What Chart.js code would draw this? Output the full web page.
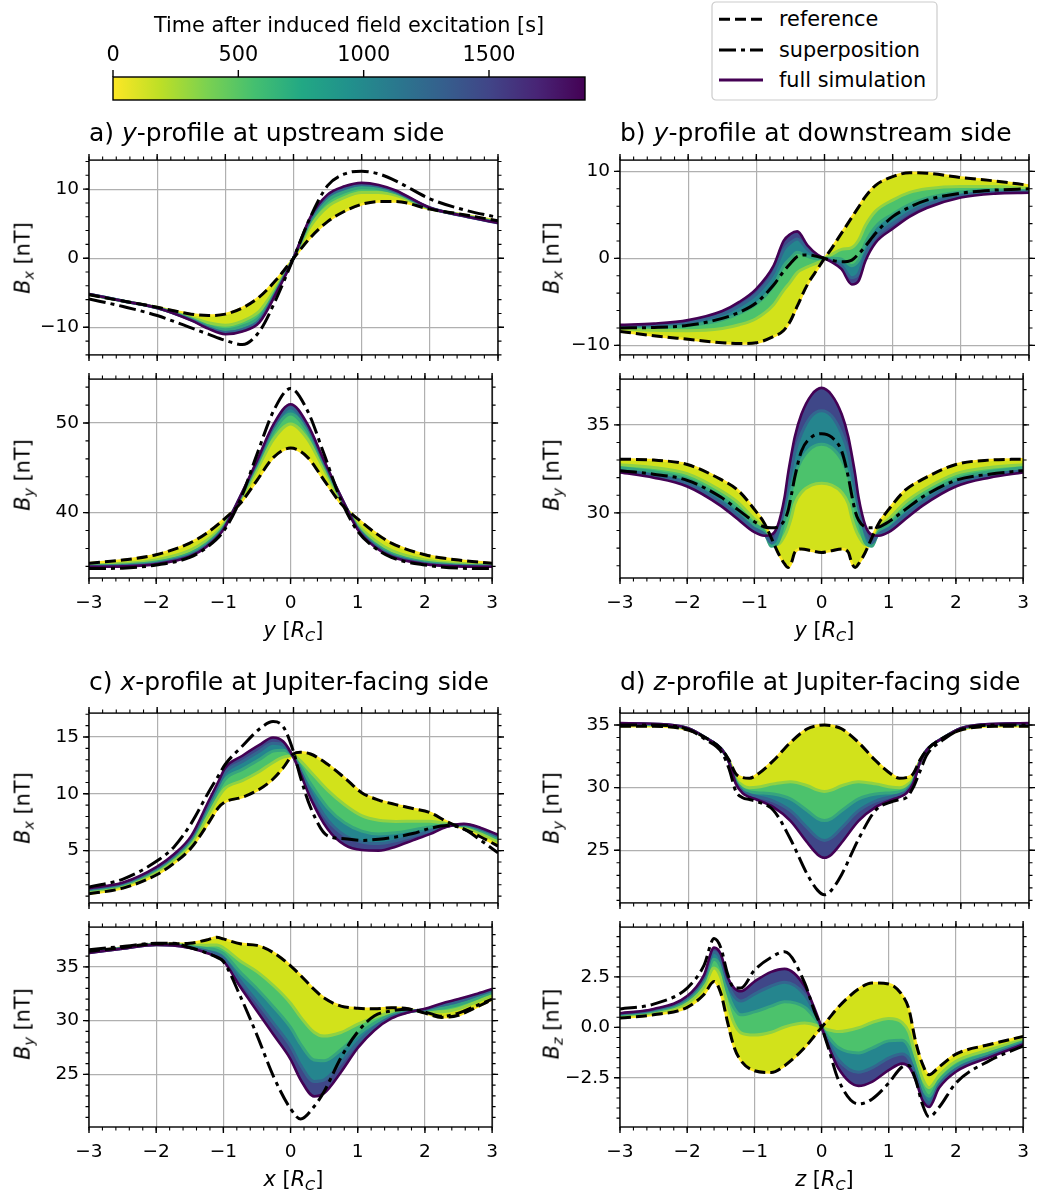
<!DOCTYPE html>
<html>
<head>
<meta charset="utf-8">
<title>Induced field profiles</title>
<script src="https://cdn.jsdelivr.net/npm/chart.js@4.4.1/dist/chart.umd.min.js"></script>
<style>
  body { margin: 0; background: #fff; font-family: "DejaVu Sans", sans-serif; color: #000; }
  #page { position: relative; width: 1037px; height: 1197px; overflow: hidden; background: #fff; }
  canvas { position: absolute; }
  .txt { position: absolute; white-space: nowrap; line-height: 1; }
  .title { font-size: 25px; }
  .lab { font-size: 20.8px; }
  sub { font-size: 0.7em; vertical-align: -0.25em; line-height: 0; }
</style>
</head>
<body>
<div id="page"></div>
<script>
// ---- a) y-profile, upstream side ----
const yUp = [-3,-2.5,-2,-1.5,-1.25,-1,-0.75,-0.5,-0.25,0,0.25,0.5,0.75,1,1.25,1.5,2,2.5,3];
const aBxRef  = [-5.3,-6.2,-7.1,-8.1,-8.3,-8.1,-7.2,-5.6,-3.1,0,3.0,5.3,6.8,7.8,8.2,8.2,7.1,6.3,5.4];
const aBxSup  = [-5.9,-7.0,-8.3,-10.1,-11.0,-11.9,-12.5,-10.6,-5.8,0,6.0,10.5,12.2,12.6,12.2,11.2,8.6,7.0,5.9];
const aBxFull = [-5.2,-6.2,-7.2,-9.0,-10.2,-11.0,-10.6,-9.3,-5.0,0,6.0,9.2,10.4,10.9,10.6,9.8,7.3,6.1,5.1];
const aBx450  = [-5.25,-6.2,-7.15,-8.6,-9.35,-9.7,-9.1,-7.65,-4.15,0,4.65,7.45,8.8,9.5,9.5,9.1,7.2,6.2,5.25];
const aBx850  = [-5.2,-6.2,-7.2,-8.8,-9.8,-10.35,-9.85,-8.5,-4.6,0,5.35,8.35,9.6,10.2,10.05,9.45,7.25,6.15,5.15];
const aBx1250 = [-5.2,-6.2,-7.2,-8.95,-10.05,-10.75,-10.35,-9.0,-4.85,0,5.75,8.9,10.1,10.65,10.4,9.65,7.3,6.1,5.1];
const aByRef  = [34.35,34.7,35.3,36.6,37.7,39.2,41.0,43.6,46.2,47.2,46.2,43.6,41.0,39.3,37.8,36.6,35.3,34.7,34.35];
const aBySup  = [33.75,33.8,34.15,35.0,36.1,37.9,41.4,46.5,51.4,53.85,51.4,46.5,41.4,37.9,36.1,35.0,34.15,33.8,33.75];
const aByFull = [33.95,34.0,34.25,35.1,36.2,38.1,41.8,45.8,49.9,52.1,49.9,45.8,41.8,38.1,36.2,35.1,34.25,34.0,33.95];
const aBy450  = [34.13,34.32,34.72,35.78,36.88,38.6,41.44,44.81,48.24,49.9,48.24,44.81,41.44,38.64,36.92,35.78,34.72,34.32,34.13];
const aBy850  = [34.04,34.15,34.48,35.43,36.53,38.34,41.62,45.32,49.09,51.0,49.09,45.32,41.62,38.36,36.55,35.43,34.48,34.15,34.04];
const aBy1250 = [33.98,34.06,34.33,35.22,36.32,38.19,41.74,45.62,49.6,51.7,49.6,45.62,41.74,38.2,36.33,35.22,34.33,34.06,33.98];

// ---- b) y-profile, downstream side ----
const yDnX = [-3,-2.5,-2,-1.5,-1.25,-1,-0.75,-0.6,-0.5,-0.4,-0.25,-0.1,0,0.1,0.25,0.4,0.5,0.6,0.75,1,1.25,1.5,2,2.5,3];
const bBxRef  = [-8.4,-8.9,-9.3,-9.7,-9.8,-9.7,-9.0,-8.3,-7.2,-5.5,-3.0,-1.2,0,1.1,2.9,4.7,5.9,7.1,8.4,9.4,9.85,9.8,9.3,8.9,8.4];
const bBxSup  = [-8.0,-7.95,-7.7,-6.9,-6.2,-5.1,-3.1,-1.5,-0.6,0.2,0.4,0.2,0,-0.2,-0.4,-0.2,0.5,1.4,2.9,4.8,5.9,6.7,7.5,7.85,8.0];
const bBxFull = [-7.65,-7.5,-7.1,-6.05,-5.0,-3.5,-0.9,2.0,2.8,3.1,1.5,0.4,0,-0.4,-1.25,-3.0,-2.6,-0.3,1.8,3.4,4.8,5.8,7.0,7.45,7.55];
const bBx450  = [-8.06,-8.27,-8.31,-8.06,-7.64,-6.91,-5.36,-3.67,-2.7,-1.63,-0.98,-0.48,0,0.43,1.03,1.24,2.08,3.77,5.43,6.7,7.58,8.0,8.27,8.25,8.02];
const bBx850  = [-7.86,-7.89,-7.72,-7.07,-6.34,-5.24,-3.17,-0.88,0.0,0.69,0.24,-0.05,0,0.02,-0.09,-0.84,-0.22,1.77,3.65,5.08,6.21,6.92,7.64,7.86,7.79];
const bBx1250 = [-7.73,-7.64,-7.32,-6.42,-5.48,-4.12,-1.71,0.97,1.8,2.24,1.05,0.24,0,-0.25,-0.84,-2.23,-1.75,0.44,2.46,4.0,5.31,6.2,7.23,7.6,7.64];
const yDnY = [-3,-2.5,-2,-1.5,-1.25,-1,-0.85,-0.75,-0.65,-0.55,-0.5,-0.45,-0.4,-0.3,-0.15,0,0.15,0.3,0.4,0.45,0.5,0.55,0.65,0.75,0.85,1,1.25,1.5,2,2.5,3];
const bByRef  = [33.05,33.0,32.75,31.9,31.3,30.2,29.4,28.6,27.75,27.1,26.9,27.15,27.75,27.95,27.85,27.75,27.85,27.95,27.75,27.15,26.9,27.1,27.75,28.6,29.4,30.2,31.3,31.9,32.75,33.0,33.05];
const bBySup  = [32.4,32.2,31.85,30.9,30.2,29.5,29.2,29.15,29.2,29.6,30.1,31.0,32.0,33.5,34.3,34.5,34.3,33.5,32.0,31.0,30.1,29.6,29.2,29.15,29.2,29.5,30.2,30.9,31.85,32.2,32.4];
const bByFull = [32.3,32.0,31.5,30.4,29.65,28.9,28.7,28.75,29.3,30.9,32.2,33.3,34.3,35.6,36.7,37.1,36.7,35.6,34.3,33.3,32.2,30.9,29.3,28.75,28.7,28.9,29.65,30.4,31.5,32.0,32.3];
const bBy450  = [32.74,32.58,32.23,31.27,30.61,29.65,29.1,28.3,28.2,28.7,29.13,29.73,30.5,31.16,31.57,31.68,31.57,31.16,30.5,29.73,29.13,28.7,28.2,28.3,29.1,29.65,30.61,31.27,32.23,32.58,32.74];
const bBy850  = [32.56,32.34,31.93,30.91,30.21,29.34,28.94,28.1,28.3,29.6,30.4,31.2,32.1,33.0,33.7,33.9,33.7,33.0,32.1,31.2,30.4,29.6,28.3,28.1,28.94,29.34,30.21,30.91,31.93,32.34,32.56];
const bBy1250 = [32.4,32.14,31.68,30.61,29.88,29.08,28.8,28.3,28.9,30.4,31.5,32.4,33.4,34.5,35.5,35.8,35.5,34.5,33.4,32.4,31.5,30.4,28.9,28.3,28.8,29.08,29.88,30.61,31.68,32.14,32.4];

// ---- c) x-profile, Jupiter-facing side ----
const xJupX = [-3,-2.5,-2,-1.75,-1.5,-1.25,-1.1,-1,-0.75,-0.5,-0.3,-0.15,0,0.1,0.25,0.5,0.75,1,1.25,1.5,1.75,2,2.25,2.5,2.75,3];
const cBxRef  = [1.2,1.7,2.9,3.9,5.25,7.4,8.8,9.3,9.7,10.4,11.3,12.3,13.5,13.65,13.5,12.6,11.4,10.1,9.45,9.05,8.7,8.35,7.55,6.9,6.2,5.4];
const cBxSup  = [1.8,2.5,4.1,5.35,7.4,10.1,11.6,12.6,14.2,15.7,16.35,15.9,13.7,11.5,8.8,6.3,6.05,5.9,6.0,6.2,6.5,6.95,7.2,6.9,5.9,4.8];
const cBxFull = [1.7,2.2,3.6,4.7,6.3,9.3,11.1,12.3,13.35,14.3,14.95,14.6,13.2,11.8,9.6,6.9,5.5,5.05,5.0,5.35,5.9,6.45,7.1,7.35,7.0,6.4];
const cBx450  = [1.4,1.9,3.18,4.22,5.67,8.16,9.72,10.5,11.16,11.96,12.76,13.22,13.38,12.91,11.94,10.32,9.04,8.08,7.67,7.57,7.58,7.59,7.37,7.08,6.52,5.8];
const cBx850  = [1.54,2.04,3.37,4.44,5.95,8.67,10.34,11.31,12.15,13.01,13.75,13.84,13.3,12.41,10.89,8.78,7.45,6.72,6.47,6.57,6.82,7.08,7.25,7.2,6.74,6.07];
const cBx1250 = [1.63,2.13,3.5,4.59,6.15,9.03,10.78,11.88,12.84,13.75,14.44,14.28,13.24,12.06,10.15,7.7,6.33,5.76,5.62,5.87,6.29,6.72,7.16,7.29,6.89,6.26];
const xJupY = [-3,-2.5,-2,-1.75,-1.5,-1.25,-1.1,-1,-0.75,-0.5,-0.25,0,0.15,0.35,0.5,0.75,1,1.25,1.5,1.75,2,2.25,2.5,2.75,3];
const cByRef  = [36.45,36.8,37.15,37.15,37.2,37.5,37.75,37.6,37.15,37.0,36.3,35.1,34.2,32.9,32.1,31.35,31.15,31.1,31.2,31.1,30.7,30.3,30.5,31.2,31.95];
const cBySup  = [36.6,36.9,37.2,37.2,36.8,36.3,35.9,35.5,32.3,28.65,24.75,21.8,20.85,22.0,23.4,26.55,28.95,30.45,30.9,31.05,30.8,30.4,30.7,31.35,32.0];
const cByFull = [36.3,36.7,37.05,37.0,36.75,36.3,35.95,35.55,33.15,30.9,28.65,26.4,24.5,22.95,23.25,25.2,27.45,29.1,30.2,30.75,31.1,31.6,32.0,32.45,32.95];
const cBy450  = [36.39,36.76,37.11,37.09,37.02,37.02,37.03,36.78,35.55,34.56,33.24,31.62,30.32,28.92,28.56,28.89,29.67,30.3,30.8,30.96,30.86,30.82,31.1,31.7,32.35];
const cBy850  = [36.35,36.73,37.08,37.05,36.9,36.71,36.56,36.25,34.51,32.97,31.25,29.36,27.8,26.33,26.26,27.29,28.71,29.78,30.54,30.87,30.96,31.16,31.49,32.03,32.61];
const cBy1250 = [36.32,36.71,37.06,37.02,36.81,36.47,36.2,35.84,33.71,31.75,29.72,27.62,25.86,24.34,24.49,26.06,27.97,29.38,30.34,30.8,31.04,31.42,31.79,32.28,32.81];

// ---- d) z-profile, Jupiter-facing side ----
const zJupY = [-3,-2.5,-2,-1.75,-1.5,-1.4,-1.3,-1.2,-1.1,-1,-0.75,-0.5,-0.25,-0.1,0,0.1,0.25,0.5,0.75,1,1.1,1.2,1.3,1.4,1.5,1.75,2,2.5,3];
const dByRef  = [34.9,34.9,34.6,34.0,33.0,32.2,31.1,30.8,30.75,31.0,32.15,33.6,34.7,34.95,35.0,34.95,34.7,33.6,32.15,31.0,30.75,30.8,31.1,32.2,33.0,34.0,34.6,34.9,34.9];
const dBySup  = [35.0,35.0,34.65,33.85,32.75,31.5,29.7,29.2,29.05,28.9,28.2,25.9,23.05,21.8,21.45,21.8,23.05,25.9,28.2,28.9,29.05,29.2,30.0,31.3,32.6,33.85,34.65,35.0,35.0];
const dByFull = [35.15,35.1,34.75,34.0,33.0,32.0,30.3,29.55,29.25,29.05,28.45,27.35,25.6,24.65,24.4,24.65,25.6,27.35,28.45,29.05,29.25,29.55,30.3,32.0,33.0,34.0,34.75,35.1,35.15];
const dBy450  = [35.03,35.0,34.68,34.0,33.0,32.1,30.7,30.18,30.0,30.03,30.3,30.48,30.15,29.8,29.7,29.8,30.15,30.48,30.3,30.03,30.0,30.18,30.7,32.1,33.0,34.0,34.68,35.0,35.03];
const dBy850  = [35.08,35.04,34.71,34.0,33.0,32.06,30.52,29.9,29.67,29.6,29.49,29.1,28.15,27.53,27.37,27.53,28.15,29.1,29.49,29.6,29.67,29.9,30.52,32.06,33.0,34.0,34.71,35.04,35.08];
const dBy1250 = [35.12,35.07,34.73,34.0,33.0,32.03,30.4,29.71,29.45,29.3,28.93,28.16,26.78,25.99,25.78,25.99,26.78,28.16,28.93,29.3,29.45,29.71,30.4,32.03,33.0,34.0,34.73,35.07,35.12];
const zJupZ = [-3,-2.5,-2,-1.75,-1.6,-1.5,-1.4,-1.3,-1.2,-1,-0.75,-0.55,-0.25,-0.1,0,0.1,0.25,0.55,0.75,1,1.2,1.3,1.4,1.5,1.6,1.75,2,2.5,3];
const dBzRef  = [0.46,0.62,0.99,1.63,2.27,1.7,0.27,-1.0,-1.65,-2.15,-2.24,-1.9,-1.0,-0.4,0,0.4,1.0,1.9,2.2,2.15,1.6,0.9,-0.7,-1.8,-2.35,-1.96,-1.33,-0.85,-0.45];
const dBzSup  = [0.91,1.15,1.95,3.07,4.4,3.95,2.67,1.95,1.95,2.83,3.47,3.75,2.19,0.75,0,-1.0,-2.6,-3.8,-3.56,-2.76,-1.96,-1.89,-2.6,-3.8,-4.44,-3.96,-2.76,-1.65,-0.93];
const dBzFull = [0.7,0.91,1.55,2.59,3.95,3.63,2.5,1.95,1.79,2.27,2.75,2.9,2.03,0.9,0,-0.9,-2.03,-2.9,-2.7,-2.12,-1.8,-1.96,-2.6,-3.6,-3.95,-3.0,-2.2,-1.49,-0.85];
const dBz450  = [0.56,0.74,1.21,2.01,2.94,2.47,1.16,0.18,-0.27,-0.38,-0.24,0.02,0.21,0.12,0,-0.12,-0.21,-0.02,0.24,0.44,0.24,-0.24,-1.46,-2.52,-2.99,-2.38,-1.68,-1.11,-0.61];
const dBz850  = [0.62,0.81,1.36,2.26,3.38,2.97,1.74,0.95,0.62,0.77,1.05,1.27,1.0,0.46,0,-0.46,-1.0,-1.27,-1.03,-0.67,-0.64,-0.99,-1.95,-2.99,-3.41,-2.65,-1.9,-1.27,-0.71];
const dBz1250 = [0.67,0.87,1.47,2.46,3.72,3.36,2.19,1.54,1.31,1.65,2.05,2.23,1.61,0.72,0,-0.72,-1.61,-2.23,-2.01,-1.52,-1.32,-1.56,-2.33,-3.35,-3.73,-2.85,-2.08,-1.4,-0.79];

// colour bar / time axis
const timeTicks = [0, 500, 1000, 1500];
const timeMax = 1883;

const GRID = '#b0b0b0';
const FAMILY = '"DejaVu Sans", sans-serif';
const PURPLE = '#440154', YELLOW = '#fde725';
const SNAP_LINE = ['#8fd244', '#36a57e', '#33668f'];          // t ~ 450, 850, 1250 s
const BAND = ['#d2e21b', '#4cc26c', '#25858e', '#3f4788'];    // between successive snapshots
const VIRIDIS = ['#440154','#482475','#414487','#355f8d','#2a788e','#21918c','#22a884','#44bf70','#7ad151','#bddf26','#fde725'];

const page = document.getElementById('page');
const fmt = (v, dec) => (dec ? v.toFixed(dec) : String(v)).replace('-', '\u2212');

// spines and outward tick marks on all four sides
const frame = {
  id: 'frame',
  afterDraw(chart, args, o) {
    const {ctx, chartArea: a, scales: {x, y}} = chart;
    ctx.save();
    ctx.strokeStyle = '#000';
    const marks = (scale, step, len, lw, horiz) => {
      ctx.lineWidth = lw;
      ctx.beginPath();
      for (let k = Math.ceil(scale.min / step - 1e-6); k * step <= scale.max + 1e-6; k++) {
        const q = scale.getPixelForValue(k * step);
        if (horiz) {
          ctx.moveTo(q, a.bottom); ctx.lineTo(q, a.bottom + len);
          ctx.moveTo(q, a.top); ctx.lineTo(q, a.top - len);
        } else {
          ctx.moveTo(a.left, q); ctx.lineTo(a.left - len, q);
          ctx.moveTo(a.right, q); ctx.lineTo(a.right + len, q);
        }
      }
      ctx.stroke();
    };
    marks(x, o.xMinor, 3.5, 1.1, true);
    marks(x, o.xMajor, 6, 1.4, true);
    marks(y, o.yMinor, 3.5, 1.1, false);
    marks(y, o.yMajor, 6, 1.4, false);
    ctx.lineWidth = 1.4;
    ctx.strokeRect(a.left, a.top, a.right - a.left, a.bottom - a.top);
    ctx.restore();
  }
};

function text(html, cls, left, top, transform) {
  const d = document.createElement('div');
  d.className = 'txt ' + cls;
  d.innerHTML = html;
  d.style.left = left + 'px';
  d.style.top = top + 'px';
  if (transform) d.style.transform = transform;
  page.appendChild(d);
}

function panel(p) {
  const L = 70, R = 14, T = 14, B = p.xName ? 46 : 14, W = 409;
  const cv = document.createElement('canvas');
  cv.width = W + L + R;
  cv.height = p.h + T + B;
  cv.style.left = (p.left - L) + 'px';
  cv.style.top = (p.top - T) + 'px';
  page.appendChild(cv);

  const pts = arr => p.pos.map((v, i) => ({x: v, y: arr[i]}));
  const line = (arr, extra) => Object.assign({
    data: pts(arr), pointRadius: 0, borderWidth: 1, fill: false, cubicInterpolationMode: 'monotone'
  }, extra);

  // index 0 is drawn last (on top)
  const datasets = [
    line(p.sup, {borderColor: '#000', borderWidth: 3, borderDash: [17, 5, 4, 5]}),
    line(p.ref, {borderColor: '#000', borderWidth: 3, borderDash: [11, 5]}),
    line(p.full, {borderColor: PURPLE, borderWidth: 2.6}),
    line(p.snaps[2], {borderColor: SNAP_LINE[2], borderWidth: 3, fill: 2, backgroundColor: BAND[3]}),
    line(p.snaps[1], {borderColor: SNAP_LINE[1], borderWidth: 3, fill: 3, backgroundColor: BAND[2]}),
    line(p.snaps[0], {borderColor: SNAP_LINE[0], borderWidth: 3, fill: 4, backgroundColor: BAND[1]}),
    line(p.ref, {borderColor: YELLOW, borderWidth: 2.4, fill: 5, backgroundColor: BAND[0]})
  ];

  const tickFont = {family: FAMILY, size: 18.5};
  new Chart(cv, {
    type: 'line',
    data: {datasets},
    options: {
      responsive: false, animation: false, events: [],
      layout: {padding: {left: 0, right: R, top: T, bottom: 0}},
      plugins: {
        legend: {display: false}, tooltip: {enabled: false},
        frame: {xMajor: 1, xMinor: 0.2, yMajor: p.major, yMinor: p.minor}
      },
      scales: {
        x: {
          type: 'linear', min: -3, max: 3,
          afterFit: s => { s.height = B; },
          border: {display: false},
          grid: {color: GRID, lineWidth: 1.2, drawTicks: false},
          ticks: {display: !!p.xName, stepSize: 1, includeBounds: false, autoSkip: false, maxRotation: 0,
                  padding: 14, color: '#000', font: tickFont, callback: v => fmt(v)}
        },
        y: {
          type: 'linear', min: p.min, max: p.max,
          afterFit: s => { s.width = L; },
          border: {display: false},
          grid: {color: GRID, lineWidth: 1.2, drawTicks: false},
          ticks: {stepSize: p.major, includeBounds: false, padding: 10, color: '#000', font: tickFont,
                  callback: v => fmt(v, p.dec)}
        }
      }
    },
    plugins: [frame]
  });

  // y label, rotated
  const cx = p.left < 300 ? 22.8 : 551.8;
  text('<i>B</i><sub><i>' + p.comp + '</i></sub> [nT]', 'lab', cx, p.top + p.h / 2,
       'translate(-50%,-50%) rotate(-90deg)');
  if (p.xName) {
    text('<i>' + p.xName + '</i> [<i>R</i><sub><i>C</i></sub>]', 'lab', p.left + W / 2,
         p.top + p.h + 42.4, 'translateX(-50%)');
  }
}

const panels = [
  {pos: yUp, ref: aBxRef, sup: aBxSup, full: aBxFull, snaps: [aBx450, aBx850, aBx1250], comp: 'x',
   left: 89, top: 153, h: 209, min: -14.0, max: 14.2, major: 10, minor: 2},
  {pos: yUp, ref: aByRef, sup: aBySup, full: aByFull, snaps: [aBy450, aBy850, aBy1250], comp: 'y', xName: 'y',
   left: 89, top: 372, h: 206, min: 32.7, max: 54.9, major: 10, minor: 2},
  {pos: yDnX, ref: bBxRef, sup: bBxSup, full: bBxFull, snaps: [bBx450, bBx850, bBx1250], comp: 'x',
   left: 620, top: 153, h: 209, min: -11.1, max: 11.3, major: 10, minor: 2},
  {pos: yDnY, ref: bByRef, sup: bBySup, full: bByFull, snaps: [bBy450, bBy850, bBy1250], comp: 'y', xName: 'y',
   left: 620, top: 372, h: 206, min: 26.3, max: 37.6, major: 5, minor: 1},
  {pos: xJupX, ref: cBxRef, sup: cBxSup, full: cBxFull, snaps: [cBx450, cBx850, cBx1250], comp: 'x',
   left: 89, top: 706, h: 204, min: 0.4, max: 17.1, major: 5, minor: 1},
  {pos: xJupY, ref: cByRef, sup: cBySup, full: cByFull, snaps: [cBy450, cBy850, cBy1250], comp: 'y', xName: 'x',
   left: 89, top: 920, h: 207, min: 20.1, max: 38.7, major: 5, minor: 1},
  {pos: zJupY, ref: dByRef, sup: dBySup, full: dByFull, snaps: [dBy450, dBy850, dBy1250], comp: 'y',
   left: 620, top: 706, h: 204, min: 20.8, max: 35.95, major: 5, minor: 1},
  {pos: zJupZ, ref: dBzRef, sup: dBzSup, full: dBzFull, snaps: [dBz450, dBz850, dBz1250], comp: 'z', xName: 'z',
   left: 620, top: 920, h: 207, min: -4.94, max: 4.97, major: 2.5, minor: 0.5, dec: 1}
];
panels.forEach(panel);

// subplot titles (left aligned on the axes)
text('a) <i>y</i>-profile at upstream side', 'title', 89, 120);
text('b) <i>y</i>-profile at downstream side', 'title', 620, 120);
text('c) <i>x</i>-profile at Jupiter-facing side', 'title', 89, 669);
text('d) <i>z</i>-profile at Jupiter-facing side', 'title', 620, 669);

// colour bar for the snapshot times
const cbar = {
  id: 'cbar',
  afterDraw(chart) {
    const {ctx, chartArea: a, scales: {x}} = chart;
    const g = ctx.createLinearGradient(a.left, 0, a.right, 0);
    VIRIDIS.slice().reverse().forEach((c, i) => g.addColorStop(i / (VIRIDIS.length - 1), c));
    ctx.save();
    ctx.fillStyle = g;
    ctx.fillRect(a.left, a.top, a.right - a.left, a.bottom - a.top);
    ctx.strokeStyle = '#000';
    ctx.lineWidth = 1.4;
    ctx.strokeRect(a.left, a.top, a.right - a.left, a.bottom - a.top);
    ctx.beginPath();
    timeTicks.forEach(t => {
      const q = x.getPixelForValue(t);
      ctx.moveTo(q, a.top); ctx.lineTo(q, a.top - 7);
    });
    ctx.stroke();
    ctx.restore();
  }
};
const cbCanvas = document.createElement('canvas');
cbCanvas.width = 534; cbCanvas.height = 110;
cbCanvas.style.left = '83px'; cbCanvas.style.top = '0px';
page.appendChild(cbCanvas);
new Chart(cbCanvas, {
  type: 'line',
  data: {datasets: []},
  options: {
    responsive: false, animation: false, events: [],
    layout: {padding: {left: 30, right: 32, top: 0, bottom: 10}},
    plugins: {legend: {display: false}, tooltip: {enabled: false}},
    scales: {
      x: {type: 'linear', position: 'top', min: 0, max: timeMax,
          afterFit: s => { s.height = 77; },
          grid: {display: false}, border: {display: false},
          afterBuildTicks: s => { s.ticks = timeTicks.map(v => ({value: v})); },
          ticks: {padding: 1, color: '#000', font: {family: FAMILY, size: 20.8}, maxRotation: 0, autoSkip: false,
                  callback: v => String(v)}},
      y: {display: false, min: 0, max: 1}
    }
  },
  plugins: [cbar]
});
text('Time after induced field excitation [s]', 'lab', 349, 15.4, 'translateX(-50%)');

// legend
const legend = document.createElementNS('http://www.w3.org/2000/svg', 'svg');
legend.setAttribute('width', 230); legend.setAttribute('height', 104);
legend.style.position = 'absolute'; legend.style.left = '711px'; legend.style.top = '0px';
legend.innerHTML =
  '<rect x="1" y="2" width="225" height="98" rx="4" fill="#fff" stroke="#cccccc" stroke-width="1.2"/>' +
  '<line x1="8" y1="19.3" x2="52" y2="19.3" stroke="#000" stroke-width="3" stroke-dasharray="11 5"/>' +
  '<line x1="8" y1="50" x2="52" y2="50" stroke="#000" stroke-width="3" stroke-dasharray="17 5 4 5"/>' +
  '<line x1="8" y1="80" x2="52" y2="80" stroke="' + PURPLE + '" stroke-width="3"/>' +
  '<g font-family="DejaVu Sans, sans-serif" font-size="20.8" fill="#000">' +
  '<text x="68" y="26">reference</text>' +
  '<text x="68" y="56.7">superposition</text>' +
  '<text x="68" y="87.3">full simulation</text></g>';
page.appendChild(legend);
</script>
</body>
</html>
